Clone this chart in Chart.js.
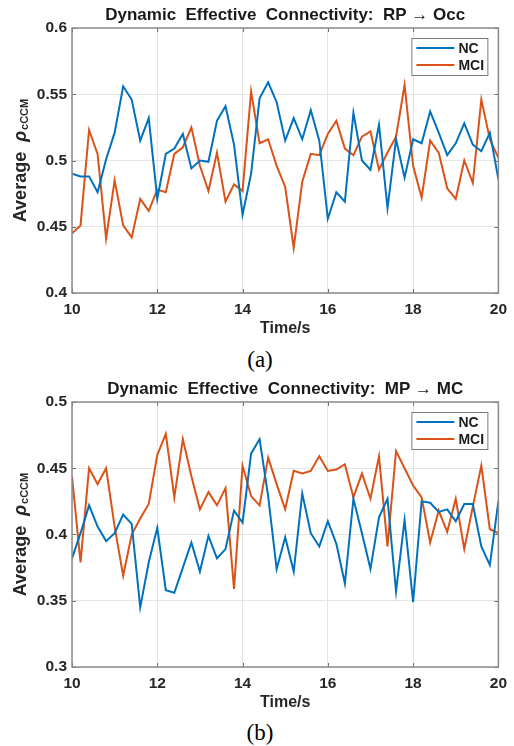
<!DOCTYPE html>
<html>
<head>
<meta charset="utf-8">
<script src="https://cdn.jsdelivr.net/npm/chart.js@4.4.1/dist/chart.umd.min.js"></script>
<style>
  body { margin: 0; background: #fff; width: 514px; height: 746px; position: relative; overflow: hidden; }
  canvas { position: absolute; left: 0; }
  .cap { position: absolute; left: 3px; width: 514px; text-align: center; font: 23px "Liberation Serif", "Times New Roman", serif; color: #000; line-height: 26px; }
</style>
</head>
<body>
<canvas id="chartA" width="514" height="340" style="top:0"></canvas>
<div class="cap" style="top:347px">(a)</div>
<canvas id="chartB" width="514" height="340" style="top:374px"></canvas>
<div class="cap" style="top:720px">(b)</div>

<script>
// time axis (s)
const times = [10.0, 10.2, 10.4, 10.6, 10.8, 11.0, 11.2, 11.4, 11.6, 11.8,
  12.0, 12.2, 12.4, 12.6, 12.8, 13.0, 13.2, 13.4, 13.6, 13.8,
  14.0, 14.2, 14.4, 14.6, 14.8, 15.0, 15.2, 15.4, 15.6, 15.8,
  16.0, 16.2, 16.4, 16.6, 16.8, 17.0, 17.2, 17.4, 17.6, 17.8,
  18.0, 18.2, 18.4, 18.6, 18.8, 19.0, 19.2, 19.4, 19.6, 19.8, 20.0];

// (a) RP -> Occ
const ncA = [0.490, 0.488, 0.488, 0.476, 0.501, 0.521, 0.556, 0.546, 0.515, 0.532,
  0.471, 0.505, 0.509, 0.520, 0.494, 0.500, 0.499, 0.530, 0.541, 0.512,
  0.459, 0.490, 0.547, 0.559, 0.544, 0.515, 0.532, 0.516, 0.538, 0.515,
  0.456, 0.476, 0.469, 0.536, 0.500, 0.493, 0.527, 0.464, 0.516, 0.487,
  0.516, 0.513, 0.537, 0.521, 0.504, 0.513, 0.528, 0.512, 0.507, 0.521, 0.486];
const mciA = [0.445, 0.451, 0.523, 0.505, 0.441, 0.485, 0.451, 0.442, 0.471, 0.462,
  0.478, 0.476, 0.505, 0.510, 0.525, 0.496, 0.477, 0.506, 0.469, 0.482,
  0.477, 0.552, 0.513, 0.516, 0.496, 0.480, 0.434, 0.484, 0.505, 0.504,
  0.520, 0.530, 0.509, 0.504, 0.518, 0.522, 0.493, 0.506, 0.518, 0.557,
  0.496, 0.472, 0.515, 0.506, 0.479, 0.471, 0.500, 0.483, 0.546, 0.516, 0.502];

// (b) MP -> MC
const ncB = [0.382, 0.401, 0.422, 0.406, 0.395, 0.401, 0.415, 0.408, 0.345, 0.379,
  0.405, 0.358, 0.356, 0.375, 0.394, 0.372, 0.399, 0.382, 0.389, 0.418,
  0.409, 0.461, 0.472, 0.429, 0.374, 0.398, 0.372, 0.431, 0.401, 0.391,
  0.410, 0.393, 0.363, 0.427, 0.401, 0.374, 0.413, 0.427, 0.357, 0.411,
  0.349, 0.425, 0.424, 0.417, 0.419, 0.410, 0.423, 0.423, 0.391, 0.377, 0.425];
const mciB = [0.444, 0.379, 0.450, 0.438, 0.450, 0.406, 0.369, 0.400, 0.412, 0.423,
  0.460, 0.476, 0.428, 0.472, 0.444, 0.419, 0.432, 0.422, 0.435, 0.359,
  0.452, 0.429, 0.422, 0.458, 0.438, 0.419, 0.448, 0.446, 0.448, 0.459,
  0.448, 0.449, 0.453, 0.428, 0.446, 0.427, 0.459, 0.391, 0.463, 0.450,
  0.437, 0.428, 0.394, 0.418, 0.402, 0.427, 0.389, 0.421, 0.452, 0.404, 0.401];

const seriesNames = ["NC", "MCI"];
const xTicks = [10, 12, 14, 16, 18, 20];
const xTickLabels = ["10", "12", "14", "16", "18", "20"];
const yTicksA = [0.4, 0.45, 0.5, 0.55, 0.6];
const yTickLabelsA = ["0.4", "0.45", "0.5", "0.55", "0.6"];
const yTicksB = [0.3, 0.35, 0.4, 0.45, 0.5];
const yTickLabelsB = ["0.3", "0.35", "0.4", "0.45", "0.5"];

const FONT = '"Liberation Sans", Arial, Helvetica, sans-serif';
Chart.defaults.font.family = FONT;
const BLUE = "#0072BD";
const ORANGE = "#D95319";

// matlab-ish box, inward ticks, legend and the y label with subscript
const matlabAxes = {
  id: "matlabAxes",
  afterDraw(chart) {
    const { ctx, chartArea: a, scales } = chart;
    const x = scales.x, y = scales.y;
    ctx.save();

    ctx.strokeStyle = "#6e6e6e";
    ctx.lineWidth = 1;
    ctx.beginPath();
    x.ticks.forEach(t => {
      const px = Math.round(x.getPixelForValue(t.value)) + 0.5;
      ctx.moveTo(px, a.bottom); ctx.lineTo(px, a.bottom - 4);
      ctx.moveTo(px, a.top); ctx.lineTo(px, a.top + 4);
    });
    y.ticks.forEach(t => {
      const py = Math.round(y.getPixelForValue(t.value)) + 0.5;
      ctx.moveTo(a.left, py); ctx.lineTo(a.left + 4, py);
      ctx.moveTo(a.right, py); ctx.lineTo(a.right - 4, py);
    });
    ctx.stroke();

    ctx.strokeStyle = "#8a8a8a";
    ctx.lineWidth = 1.5;
    ctx.strokeRect(a.left, a.top, a.right - a.left, a.bottom - a.top);

    // legend
    const lx = a.right - 87, ly = a.top + 10, lw = 76, lh = 37;
    ctx.fillStyle = "#fff";
    ctx.fillRect(lx, ly, lw, lh);
    ctx.strokeStyle = "#7a7a7a";
    ctx.lineWidth = 1;
    ctx.strokeRect(lx + 0.5, ly + 0.5, lw, lh);
    ctx.font = "bold 14px " + FONT;
    ctx.textBaseline = "middle";
    chart.data.datasets.forEach((ds, i) => {
      const ry = ly + 10 + i * 17;
      ctx.strokeStyle = ds.borderColor;
      ctx.lineWidth = 2;
      ctx.beginPath();
      ctx.moveTo(lx + 5, ry); ctx.lineTo(lx + 43, ry);
      ctx.stroke();
      ctx.fillStyle = "#1a1a1a";
      ctx.fillText(ds.label, lx + 47, ry + 1);
    });

    // y axis title: Average rho_cCCM
    const f1 = "bold 18px " + FONT;
    const f2 = "italic bold 18px " + FONT;
    const f3 = "bold 11px " + FONT;
    const p1 = "Average  ", p2 = "\u03c1", p3 = "cCCM";
    ctx.font = f1; const w1 = ctx.measureText(p1).width;
    ctx.font = f2; const w2 = ctx.measureText(p2).width;
    ctx.font = f3; const w3 = ctx.measureText(p3).width;
    const total = w1 + w2 + 1 + w3;
    ctx.translate(19, (a.top + a.bottom) / 2);
    ctx.rotate(-Math.PI / 2);
    ctx.fillStyle = "#262626";
    ctx.textBaseline = "alphabetic";
    ctx.textAlign = "left";
    let sx = -total / 2;
    ctx.font = f1; ctx.fillText(p1, sx, 6.5); sx += w1;
    ctx.font = f2; ctx.fillText(p2, sx, 6.5); sx += w2 + 1;
    ctx.font = f3; ctx.fillText(p3, sx, 8.5);

    ctx.restore();
  }
};

function makeChart(id, title, nc, mci, yTicks, yLabels) {
  const ctx = document.getElementById(id).getContext("2d");
  return new Chart(ctx, {
    type: "line",
    data: {
      datasets: [
        {
          label: seriesNames[0],
          data: times.map((t, i) => ({ x: t, y: nc[i] })),
          borderColor: BLUE,
          borderWidth: 2,
          pointRadius: 0,
          tension: 0
        },
        {
          label: seriesNames[1],
          data: times.map((t, i) => ({ x: t, y: mci[i] })),
          borderColor: ORANGE,
          borderWidth: 2,
          pointRadius: 0,
          tension: 0
        }
      ]
    },
    options: {
      responsive: false,
      animation: false,
      layout: { padding: { left: 0, right: 10, top: 0, bottom: 0 } },
      plugins: {
        legend: { display: false },
        tooltip: { enabled: false },
        title: {
          display: true,
          text: title,
          fullSize: false,
          color: "#1a1a1a",
          font: { size: 17, weight: "bold" },
          padding: { top: 4.8, bottom: 2.8 }
        }
      },
      scales: {
        x: {
          type: "linear",
          min: 10,
          max: 20,
          afterBuildTicks: s => { s.ticks = xTicks.map(v => ({ value: v })); },
          afterFit: s => { s.height = 47; },
          grid: { color: "#e4e4e4", drawTicks: false },
          border: { display: false },
          ticks: {
            padding: 7,
            color: "#262626",
            font: { size: 15.5, weight: "bold" },
            maxRotation: 0,
            callback: (v, i) => xTickLabels[i]
          },
          title: {
            display: true,
            text: "Time/s",
            color: "#262626",
            font: { size: 16, weight: "bold" },
            padding: { top: 0, bottom: 2 }
          }
        },
        y: {
          min: yTicks[0],
          max: yTicks[yTicks.length - 1],
          afterBuildTicks: s => { s.ticks = yTicks.map(v => ({ value: v })); },
          afterFit: s => { s.width = 72; },
          grid: { color: "#e4e4e4", drawTicks: false },
          border: { display: false },
          ticks: {
            padding: 5,
            color: "#262626",
            font: { size: 15.5, weight: "bold" },
            callback: (v, i) => yLabels[i]
          }
        }
      }
    },
    plugins: [matlabAxes]
  });
}

makeChart("chartA", "Dynamic  Effective  Connectivity:  RP \u2192 Occ", ncA, mciA, yTicksA, yTickLabelsA);
makeChart("chartB", "Dynamic  Effective  Connectivity:  MP \u2192 MC", ncB, mciB, yTicksB, yTickLabelsB);
</script>
</body>
</html>
